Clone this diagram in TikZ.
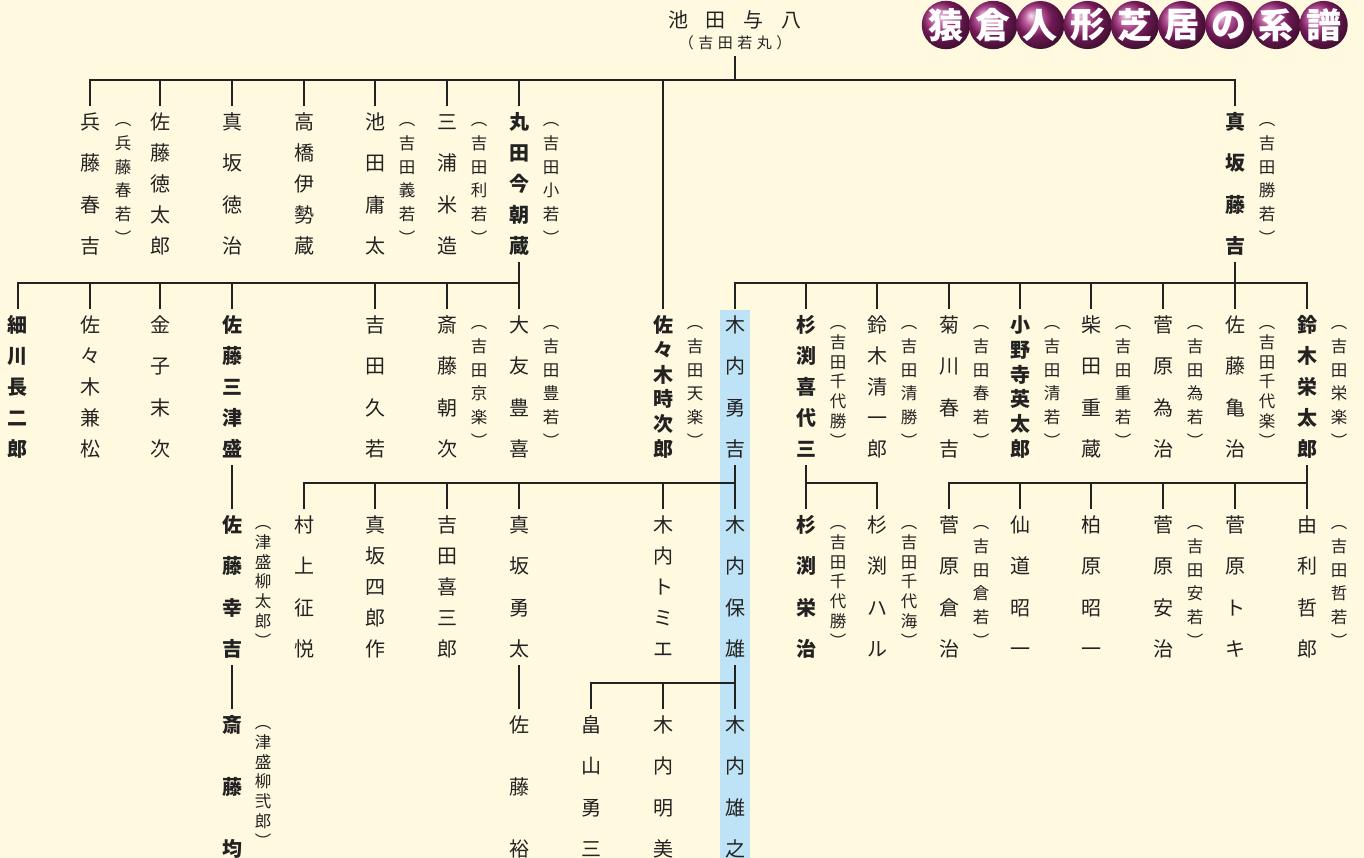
\documentclass[tikz,border=0pt]{standalone}
\usepackage{fontspec}
\setmainfont{Noto Sans CJK JP}
\usepackage{tikz}
\usetikzlibrary{positioning,calc}

\definecolor{paper}{HTML}{FFFADF}
\definecolor{hilite}{HTML}{BEE2F6}
\definecolor{ink}{HTML}{222222}
\definecolor{ballmag}{HTML}{A3267C}

% vertical (tate-gaki) text, spread over a fixed height
\newcommand\tatechar[1]{\hbox to 1em{\hss\vrule height .88em depth .12em width 0pt #1\hss}}
\def\tatefirst#1{\tatechar{#1}\tatenext}
\def\tatenext#1{\ifx#1\relax\else\vfill\tatechar{#1}\expandafter\tatenext\fi}
\newcommand\tatebox[2]{\vbox to #1{\offinterlineskip\tatefirst#2\relax}}
\newcommand\tate{\tatebox{141pt}}
\newcommand\tatek{\tatebox{133pt}}

\tikzset{
  person/.style    = {anchor=north, inner xsep=2pt, inner ysep=7pt, text=ink,
                      font=\fontsize{20}{20}\selectfont},
  master/.style    = {person, font=\fontsize{20}{20}\selectfont\bfseries},
  geimei/.style    = {anchor=north, inner xsep=1pt, inner ysep=6pt, text=ink,
                      font=\fontsize{16.5}{16.5}\selectfont},
  famline/.style   = {draw=ink, line width=1.5pt, line cap=rect},
  titleball/.style = {circle, minimum size=48pt, inner sep=0pt, ball color=ballmag,
                      text=white, font=\fontsize{35}{35}\selectfont\bfseries},
}

\begin{document}
\begin{tikzpicture}[x=1pt,y=-1pt]
  \fill[paper] (0,0) rectangle (1364,858);
  \useasboundingbox (0,0) rectangle (1364,858);
  \fill[hilite] (720,310) rectangle (750,858);

  % title
  \foreach \ch [count=\i] in {猿,倉,人,形,芝,居,の,系,譜}
    \node[titleball] (title\i) at ({946+(\i-1)*47.2},25) {\ch};

  % founder
  \node[person, anchor=center, font=\fontsize{20}{20}\selectfont] (root) at (735,20)
        {池\hspace{0.9em}田\hspace{0.9em}与\hspace{0.9em}八};
  \node[geimei, anchor=center, font=\fontsize{15}{15}\selectfont] (rootG) at (735,43)
        {（\hspace{.3em}吉\hspace{.3em}田\hspace{.3em}若\hspace{.3em}丸\hspace{.3em}）};

  \coordinate (busA) at (0,80);
  \coordinate (busB) at (0,283);
  \coordinate (busC) at (0,483);
  \coordinate (busD) at (0,683);

  % first generation
  \node[person] (hyoudou)    at (90,105)   {\tate{兵藤春吉}};
  \node[geimei] (hyoudouG)   at ([xshift=33pt]hyoudou.north) {\tatek{︵兵藤春若︶}};
  \node[person] (satotoku)   at (160,105)  {\tate{佐藤徳太郎}};
  \node[person] (masakatoku) at (232,105)  {\tate{真坂徳治}};
  \node[person] (takahashi)  at (304,105)  {\tate{高橋伊勢蔵}};
  \node[person] (ikedayou)   at (375,105)  {\tate{池田庸太}};
  \node[geimei] (ikedayouG)  at ([xshift=32pt]ikedayou.north) {\tatek{︵吉田義若︶}};
  \node[person] (miura)      at (447,105)  {\tate{三浦米造}};
  \node[geimei] (miuraG)     at ([xshift=32pt]miura.north) {\tatek{︵吉田利若︶}};
  \node[master] (maruta)     at (519,105)  {\tate{丸田今朝蔵}};
  \node[geimei] (marutaG)    at ([xshift=32pt]maruta.north) {\tatek{︵吉田小若︶}};
  \node[master] (sasaki)     at (663,308)  {\tate{佐々木時次郎}};
  \node[geimei] (sasakiG)    at ([xshift=32pt]sasaki.north) {\tatek{︵吉田天楽︶}};
  \node[master] (masakato)   at (1235,105) {\tate{真坂藤吉}};
  \node[geimei] (masakatoG)  at ([xshift=32pt]masakato.north) {\tatek{︵吉田勝若︶}};

  % second generation, Maruta line
  \node[master] (hosokawa)   at (18,308)   {\tate{細川長二郎}};
  \node[person] (sasakikane) at (90,308)   {\tate{佐々木兼松}};
  \node[person] (kaneko)     at (160,308)  {\tate{金子末次}};
  \node[master] (satomitsu)  at (232,308)  {\tate{佐藤三津盛}};
  \node[person] (yoshidaku)  at (375,308)  {\tate{吉田久若}};
  \node[person] (saitoasa)   at (447,308)  {\tate{斎藤朝次}};
  \node[geimei] (saitoasaG)  at ([xshift=32pt]saitoasa.north) {\tatek{︵吉田京楽︶}};
  \node[person] (ootomo)     at (519,308)  {\tate{大友豊喜}};
  \node[geimei] (ootomoG)    at ([xshift=32pt]ootomo.north) {\tatek{︵吉田豊若︶}};

  % second generation, Masaka line
  \node[person] (kiuchiyu)   at (735,308)  {\tate{木内勇吉}};
  \node[master] (sugikiyo)   at (806,308)  {\tate{杉渕喜代三}};
  \node[geimei] (sugikiyoG)  at ([xshift=32pt]sugikiyo.north) {\tatek{︵吉田千代勝︶}};
  \node[person] (suzukisei)  at (877,308)  {\tate{鈴木清一郎}};
  \node[geimei] (suzukiseiG) at ([xshift=32pt]suzukisei.north) {\tatek{︵吉田清勝︶}};
  \node[person] (kikukawa)   at (949,308)  {\tate{菊川春吉}};
  \node[geimei] (kikukawaG)  at ([xshift=32pt]kikukawa.north) {\tatek{︵吉田春若︶}};
  \node[master] (onodera)    at (1020,308) {\tate{小野寺英太郎}};
  \node[geimei] (onoderaG)   at ([xshift=32pt]onodera.north) {\tatek{︵吉田清若︶}};
  \node[person] (shibata)    at (1091,308) {\tate{柴田重蔵}};
  \node[geimei] (shibataG)   at ([xshift=32pt]shibata.north) {\tatek{︵吉田重若︶}};
  \node[person] (sugatame)   at (1163,308) {\tate{菅原為治}};
  \node[geimei] (sugatameG)  at ([xshift=32pt]sugatame.north) {\tatek{︵吉田為若︶}};
  \node[person] (satokame)   at (1235,308) {\tate{佐藤亀治}};
  \node[geimei] (satokameG)  at ([xshift=32pt]satokame.north) {\tatek{︵吉田千代楽︶}};
  \node[master] (suzukiei)   at (1307,308) {\tate{鈴木栄太郎}};
  \node[geimei] (suzukieiG)  at ([xshift=32pt]suzukiei.north) {\tatek{︵吉田栄楽︶}};

  % third generation
  \node[master] (satokou)    at (232,508)  {\tate{佐藤幸吉}};
  \node[geimei] (satokouG)   at ([xshift=31pt]satokou.north) {\tatek{︵津盛柳太郎︶}};
  \node[person] (murakami)   at (304,508)  {\tate{村上征悦}};
  \node[person] (masakashi)  at (375,508)  {\tate{真坂四郎作}};
  \node[person] (yoshidaki)  at (447,508)  {\tate{吉田喜三郎}};
  \node[person] (masakayu)   at (519,508)  {\tate{真坂勇太}};
  \node[person] (kiuchitomi) at (663,508)  {\tate{木内トミエ}};
  \node[person] (kiuchiyasu) at (735,508)  {\tate{木内保雄}};
  \node[master] (sugiei)     at (806,508)  {\tate{杉渕栄治}};
  \node[geimei] (sugieiG)    at ([xshift=32pt]sugiei.north) {\tatek{︵吉田千代勝︶}};
  \node[person] (sugiharu)   at (877,508)  {\tate{杉渕ハル}};
  \node[geimei] (sugiharuG)  at ([xshift=32pt]sugiharu.north) {\tatek{︵吉田千代海︶}};
  \node[person] (sugakura)   at (949,508)  {\tate{菅原倉治}};
  \node[geimei] (sugakuraG)  at ([xshift=32pt]sugakura.north) {\tatek{︵吉田倉若︶}};
  \node[person] (sendou)     at (1020,508) {\tate{仙道昭一}};
  \node[person] (kashiwa)    at (1091,508) {\tate{柏原昭一}};
  \node[person] (sugayasu)   at (1163,508) {\tate{菅原安治}};
  \node[geimei] (sugayasuG)  at ([xshift=32pt]sugayasu.north) {\tatek{︵吉田安若︶}};
  \node[person] (sugatoki)   at (1235,508) {\tate{菅原トキ}};
  \node[person] (yuri)       at (1307,508) {\tate{由利哲郎}};
  \node[geimei] (yuriG)      at ([xshift=32pt]yuri.north) {\tatek{︵吉田哲若︶}};

  % fourth generation
  \node[master] (saitohito)  at (232,708)  {\tate{斎藤均}};
  \node[geimei] (saitohitoG) at ([xshift=31pt]saitohito.north) {\tatek{︵津盛柳弐郎︶}};
  \node[person] (satoyu)     at (519,708)  {\tate{佐藤裕}};
  \node[person] (hatake)     at (591,708)  {\tate{畠山勇三}};
  \node[person] (kiuchiaki)  at (663,708)  {\tate{木内明美}};
  \node[person] (kiuchiyuki) at (735,708)  {\tate{木内雄之}};

  % family lines
  \draw[famline] (rootG.south) -- (rootG.south |- busA);
  \draw[famline] (hyoudou.north |- busA) -- (masakato.north |- busA);
  \foreach \c in {hyoudou,satotoku,masakatoku,takahashi,ikedayou,miura,maruta,sasaki,masakato}
    \draw[famline] (\c.north) -- (\c.north |- busA);

  \draw[famline] (maruta.south) -- (maruta.south |- busB);
  \draw[famline] (hosokawa.north |- busB) -- (ootomo.north |- busB);
  \foreach \c in {hosokawa,sasakikane,kaneko,satomitsu,yoshidaku,saitoasa,ootomo}
    \draw[famline] (\c.north) -- (\c.north |- busB);

  \draw[famline] (masakato.south) -- (masakato.south |- busB);
  \draw[famline] (kiuchiyu.north |- busB) -- (suzukiei.north |- busB);
  \foreach \c in {kiuchiyu,sugikiyo,suzukisei,kikukawa,onodera,shibata,sugatame,satokame,suzukiei}
    \draw[famline] (\c.north) -- (\c.north |- busB);

  \draw[famline] (satomitsu) -- (satokou);
  \draw[famline] (satokou) -- (saitohito);
  \draw[famline] (masakayu) -- (satoyu);

  \draw[famline] (kiuchiyu.south) -- (kiuchiyu.south |- busC);
  \draw[famline] (murakami.north |- busC) -- (kiuchiyasu.north |- busC);
  \foreach \c in {murakami,masakashi,yoshidaki,masakayu,kiuchitomi,kiuchiyasu}
    \draw[famline] (\c.north) -- (\c.north |- busC);

  \draw[famline] (sugikiyo.south) -- (sugikiyo.south |- busC);
  \draw[famline] (sugiei.north |- busC) -- (sugiharu.north |- busC);
  \foreach \c in {sugiei,sugiharu}
    \draw[famline] (\c.north) -- (\c.north |- busC);

  \draw[famline] (suzukiei.south) -- (suzukiei.south |- busC);
  \draw[famline] (sugakura.north |- busC) -- (yuri.north |- busC);
  \foreach \c in {sugakura,sendou,kashiwa,sugayasu,sugatoki,yuri}
    \draw[famline] (\c.north) -- (\c.north |- busC);

  \draw[famline] (kiuchiyasu.south) -- (kiuchiyasu.south |- busD);
  \draw[famline] (hatake.north |- busD) -- (kiuchiyuki.north |- busD);
  \foreach \c in {hatake,kiuchiaki,kiuchiyuki}
    \draw[famline] (\c.north) -- (\c.north |- busD);
\end{tikzpicture}
\end{document}
